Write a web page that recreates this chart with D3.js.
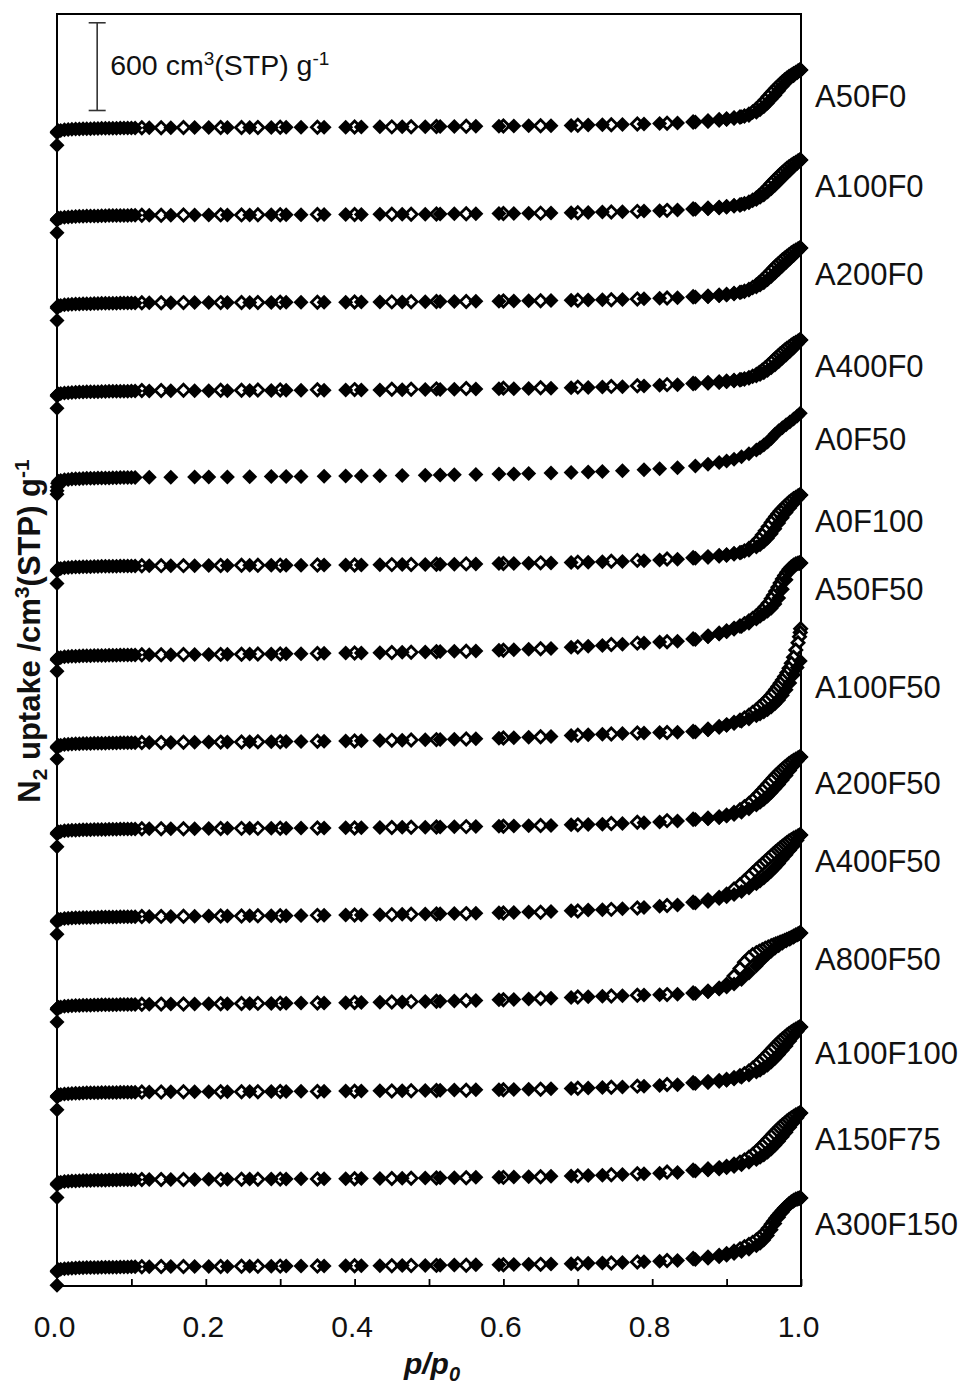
<!DOCTYPE html>
<html>
<head>
<meta charset="utf-8">
<script src="https://cdn.jsdelivr.net/npm/d3@7"></script>
<style>
  html, body { margin: 0; padding: 0; background: #fff; }
  svg text { font-family: Arial, "Liberation Sans", sans-serif; fill: #111; }
</style>
</head>
<body>
<svg id="chart" width="967" height="1385"></svg>
<script>
// Stacked N2 physisorption isotherms, one row per sample, each shifted up by 600 cm3(STP)/g.
// Filled diamonds: adsorption branch. Open diamonds: desorption branch.

const SAMPLES = ["A50F0", "A100F0", "A200F0", "A400F0", "A0F50", "A0F100", "A50F50",
                 "A100F50", "A200F50", "A400F50", "A800F50", "A100F100", "A150F75", "A300F150"];
const OFFSETS = [7800, 7200, 6600, 6000, 5400, 4800, 4200, 3600, 3000, 2400, 1800, 1200, 600, 0];

// relative pressures of the adsorption points (low, middle and high-pressure parts)
const P_ADS = [0, 0.0001, 0.0003, 0.0008, 0.002, 0.005, 0.01, 0.015, 0.02, 0.025, 0.03, 0.035, 0.04,
  0.045, 0.05, 0.055, 0.06, 0.065, 0.07, 0.075, 0.08, 0.085, 0.09, 0.095, 0.1, 0.105,
  0.124, 0.153, 0.185, 0.204, 0.229, 0.259, 0.288, 0.308, 0.328, 0.359, 0.388, 0.409, 0.434, 0.464,
  0.495, 0.515, 0.534, 0.563, 0.594, 0.614, 0.634, 0.664, 0.691, 0.714, 0.733, 0.76, 0.789, 0.81,
  0.834, 0.858,
  0.875, 0.89, 0.9, 0.91, 0.92, 0.93, 0.94, 0.945, 0.95, 0.955, 0.96, 0.965, 0.97, 0.975, 0.98,
  0.985, 0.99, 0.995, 0.999];
// relative pressures of the desorption points, from saturation downwards
const P_DES = [0.9995, 0.999, 0.998, 0.996, 0.993, 0.99, 0.987, 0.984, 0.981, 0.978, 0.975, 0.972,
  0.969, 0.966, 0.963, 0.96, 0.956, 0.952, 0.948, 0.944, 0.94, 0.935, 0.93, 0.924, 0.918, 0.91,
  0.9, 0.89, 0.875, 0.855,
  0.82, 0.78, 0.745, 0.7, 0.65, 0.6, 0.55, 0.51, 0.476, 0.45, 0.4, 0.35, 0.3, 0.27, 0.248, 0.22,
  0.17, 0.14, 0.114];

// uptake, cm3(STP)/g
const A50F0_ADS = [3, 87, 94, 98, 101, 104, 108, 110, 112, 113, 114, 115, 116, 116, 117, 117, 118, 118, 119, 119, 119, 120, 120, 120, 121, 121,
  122, 122, 123, 123, 124, 124, 124, 125, 125, 126, 126, 127, 128, 128, 129, 130, 131, 132, 133, 134, 135, 136, 138, 140, 142, 145, 148, 151, 155, 161,
  166, 174, 180, 188, 198, 205, 228, 245, 265, 290, 318, 345, 375, 405, 435, 458, 478, 498, 517];
const A50F0_DES = [517, 517, 515, 510, 500, 492, 482, 472, 460, 448, 435, 420, 405, 390, 374, 358, 336, 312, 290, 270, 250, 230, 215, 202, 195, 189, 182, 176, 168, 161,
  153, 147, 143, 139, 136, 134, 132, 130, 129, 128, 127, 126, 125, 124, 124, 124, 123, 122, 122];

const A100F0_ADS = [3, 89, 96, 100, 103, 106, 110, 112, 114, 115, 116, 117, 118, 118, 119, 119, 120, 120, 121, 121, 121, 122, 122, 122, 123, 123,
  124, 124, 125, 125, 126, 126, 127, 127, 127, 128, 129, 129, 130, 131, 131, 132, 133, 134, 136, 136, 138, 139, 141, 143, 145, 148, 152, 155, 159, 165,
  170, 176, 181, 188, 198, 212, 232, 246, 262, 282, 304, 328, 354, 380, 405, 430, 455, 478, 501];
const A100F0_DES = [501, 501, 499, 494, 485, 476, 466, 455, 443, 430, 416, 402, 387, 372, 356, 340, 318, 296, 276, 258, 242, 226, 213, 202, 194, 189, 182, 177, 171, 166,
  157, 150, 146, 141, 138, 136, 134, 132, 131, 130, 129, 128, 127, 127, 126, 126, 125, 124, 124];

const A200F0_ADS = [4, 90, 97, 101, 104, 107, 111, 113, 115, 116, 117, 118, 119, 119, 120, 120, 121, 121, 122, 122, 122, 123, 123, 123, 124, 124,
  125, 125, 126, 126, 127, 127, 127, 128, 128, 129, 129, 130, 131, 131, 132, 133, 134, 135, 136, 137, 138, 140, 142, 144, 145, 148, 152, 155, 159, 165,
  168, 174, 180, 188, 198, 212, 232, 246, 262, 282, 304, 328, 352, 376, 400, 424, 448, 474, 500];
const A200F0_DES = [500, 500, 498, 493, 484, 475, 465, 454, 442, 430, 417, 403, 389, 374, 359, 343, 322, 301, 281, 263, 247, 230, 216, 204, 196, 189, 182, 176, 170, 166,
  157, 150, 146, 142, 139, 137, 134, 133, 132, 131, 130, 129, 128, 127, 127, 126, 126, 125, 125];

const A400F0_ADS = [4, 87, 94, 98, 101, 104, 108, 110, 112, 113, 114, 115, 116, 116, 117, 117, 118, 118, 119, 119, 119, 120, 120, 120, 121, 121,
  122, 123, 123, 124, 124, 125, 125, 126, 126, 127, 128, 128, 129, 130, 131, 132, 133, 135, 136, 137, 139, 141, 143, 146, 148, 151, 156, 160, 165, 172,
  176, 182, 187, 193, 200, 210, 224, 234, 246, 262, 280, 300, 322, 345, 368, 392, 416, 443, 470];
const A400F0_DES = [470, 470, 468, 462, 453, 444, 434, 423, 412, 400, 387, 374, 360, 346, 332, 317, 298, 280, 263, 248, 235, 222, 212, 204, 198, 193, 188, 183, 178, 173,
  165, 158, 153, 148, 144, 141, 138, 136, 134, 133, 131, 130, 129, 128, 127, 127, 126, 125, 125];

const A0F50_ADS = [15, 40, 65, 90, 104, 110, 114, 117, 119, 121, 122, 123, 124, 125, 125, 126, 126, 127, 127, 128, 128, 129, 129, 129, 130, 130,
  131, 132, 133, 133, 134, 135, 136, 136, 137, 138, 140, 140, 142, 143, 145, 147, 148, 150, 153, 154, 157, 160, 164, 168, 171, 176, 183, 189, 197, 209,
  220, 232, 242, 255, 272, 292, 318, 334, 352, 372, 396, 425, 450, 470, 490, 510, 530, 550, 569];
const A0F50_DES = [];

const A0F100_ADS = [5, 91, 98, 102, 105, 108, 112, 114, 116, 117, 118, 119, 120, 120, 121, 121, 122, 122, 123, 123, 123, 124, 124, 124, 125, 125,
  126, 127, 127, 128, 128, 129, 129, 130, 130, 131, 132, 132, 133, 134, 135, 136, 137, 139, 141, 142, 143, 145, 148, 150, 153, 156, 161, 165, 170, 178,
  185, 193, 200, 208, 218, 232, 255, 270, 290, 315, 345, 380, 418, 455, 490, 522, 552, 582, 610];
const A0F100_DES = [610, 610, 608, 603, 594, 584, 572, 560, 546, 532, 516, 500, 482, 463, 443, 422, 394, 365, 337, 310, 287, 263, 244, 228, 216, 208, 200, 194, 187, 181,
  172, 163, 157, 151, 146, 142, 139, 137, 135, 134, 132, 131, 130, 129, 129, 128, 127, 127, 126];

const A50F50_ADS = [5, 82, 89, 93, 96, 99, 103, 105, 107, 108, 109, 110, 111, 111, 112, 112, 113, 113, 114, 114, 114, 115, 115, 115, 116, 116,
  117, 118, 119, 120, 121, 122, 123, 124, 125, 127, 129, 130, 132, 134, 137, 139, 141, 144, 148, 151, 155, 161, 168, 175, 181, 190, 198, 204, 210, 222,
  240, 260, 275, 292, 310, 333, 362, 380, 398, 415, 435, 465, 505, 565, 630, 690, 725, 740, 745];
const A50F50_DES = [745, 745, 745, 743, 738, 730, 718, 702, 682, 660, 635, 608, 580, 552, 525, 500, 470, 445, 422, 402, 385, 365, 348, 330, 314, 298, 280, 265, 245, 226,
  207, 197, 187, 171, 158, 149, 142, 138, 135, 133, 129, 126, 123, 122, 121, 120, 119, 118, 117];

const A100F50_ADS = [5, 82, 89, 93, 96, 99, 103, 105, 107, 108, 109, 110, 111, 111, 112, 112, 113, 113, 114, 114, 114, 115, 115, 115, 116, 116,
  117, 118, 119, 120, 121, 122, 123, 124, 125, 126, 128, 129, 131, 133, 136, 138, 140, 143, 147, 150, 154, 159, 165, 170, 174, 179, 183, 185, 187, 190,
  205, 222, 235, 248, 262, 278, 300, 312, 326, 342, 360, 382, 408, 440, 478, 525, 580, 630, 674];
const A100F50_DES = [895, 870, 840, 800, 750, 700, 660, 625, 595, 568, 545, 522, 500, 480, 460, 440, 418, 398, 378, 360, 342, 322, 304, 285, 270, 254, 238, 225, 208, 193,
  186, 182, 176, 167, 156, 148, 141, 137, 134, 132, 128, 126, 123, 122, 121, 120, 119, 118, 117];

const A200F50_ADS = [5, 92, 99, 103, 106, 109, 113, 115, 117, 118, 119, 120, 121, 121, 122, 122, 123, 123, 124, 124, 124, 125, 125, 125, 126, 126,
  127, 128, 128, 129, 130, 130, 131, 131, 132, 133, 134, 135, 136, 137, 138, 140, 141, 143, 145, 146, 148, 150, 154, 157, 159, 164, 169, 174, 181, 190,
  196, 205, 214, 225, 240, 262, 290, 308, 328, 350, 375, 402, 430, 460, 492, 525, 558, 590, 619];
const A200F50_DES = [619, 619, 617, 612, 603, 594, 584, 573, 561, 548, 535, 521, 506, 491, 475, 458, 436, 413, 390, 368, 347, 322, 300, 278, 258, 238, 220, 208, 200, 193,
  183, 172, 163, 154, 149, 145, 142, 139, 137, 136, 133, 132, 131, 130, 130, 129, 128, 128, 127];

const A400F50_ADS = [5, 92, 99, 103, 106, 109, 113, 115, 117, 118, 119, 120, 121, 121, 122, 122, 123, 123, 124, 124, 124, 125, 125, 125, 126, 126,
  127, 128, 129, 130, 131, 132, 133, 133, 134, 135, 137, 138, 140, 142, 144, 146, 148, 150, 153, 155, 158, 161, 166, 171, 174, 181, 189, 197, 206, 220,
  230, 250, 262, 278, 298, 322, 352, 370, 390, 412, 436, 462, 490, 520, 550, 580, 610, 648, 685];
const A400F50_DES = [685, 685, 683, 678, 670, 662, 653, 643, 632, 620, 608, 596, 583, 570, 556, 542, 524, 505, 486, 467, 448, 425, 400, 372, 345, 315, 280, 258, 240, 225,
  203, 186, 176, 165, 157, 151, 147, 144, 142, 140, 137, 135, 133, 132, 131, 130, 129, 128, 127];

const A800F50_ADS = [5, 92, 99, 103, 106, 109, 113, 115, 117, 118, 119, 120, 121, 121, 122, 122, 123, 123, 124, 124, 124, 125, 125, 125, 126, 126,
  127, 128, 129, 130, 131, 132, 133, 134, 135, 136, 138, 139, 141, 143, 146, 148, 150, 153, 157, 160, 163, 168, 174, 179, 182, 186, 190, 192, 195, 200,
  215, 232, 245, 265, 296, 340, 390, 418, 445, 468, 490, 510, 528, 545, 560, 572, 585, 600, 615];
const A800F50_DES = [615, 615, 613, 608, 600, 592, 584, 577, 570, 563, 557, 551, 545, 539, 533, 527, 519, 510, 500, 490, 480, 465, 445, 415, 372, 320, 262, 236, 216, 204,
  193, 189, 184, 176, 166, 158, 152, 148, 145, 143, 139, 136, 134, 133, 132, 131, 129, 128, 127];

const A100F100_ADS = [5, 92, 99, 103, 106, 109, 113, 115, 117, 118, 119, 120, 121, 121, 122, 122, 123, 123, 124, 124, 124, 125, 125, 125, 126, 126,
  127, 128, 128, 129, 129, 130, 131, 131, 132, 132, 133, 134, 135, 136, 137, 139, 140, 142, 143, 144, 146, 149, 151, 154, 157, 161, 166, 171, 176, 185,
  192, 200, 207, 216, 228, 244, 264, 276, 292, 310, 332, 356, 384, 412, 442, 475, 508, 540, 572];
const A100F100_DES = [572, 572, 570, 565, 557, 548, 538, 527, 515, 502, 489, 475, 460, 445, 429, 413, 392, 370, 350, 330, 310, 290, 270, 252, 238, 225, 212, 204, 197, 190,
  178, 167, 160, 152, 146, 142, 139, 137, 136, 134, 132, 131, 130, 129, 129, 128, 128, 127, 127];

const A150F75_ADS = [5, 93, 100, 104, 107, 110, 114, 116, 118, 119, 120, 121, 122, 122, 123, 123, 124, 124, 125, 125, 125, 126, 126, 126, 127, 127,
  128, 129, 129, 130, 130, 131, 132, 132, 133, 133, 134, 135, 136, 137, 138, 140, 141, 143, 144, 145, 147, 150, 152, 155, 158, 162, 167, 172, 177, 186,
  193, 201, 208, 218, 230, 246, 266, 280, 296, 315, 337, 362, 390, 420, 452, 485, 518, 551, 584];
const A150F75_DES = [584, 584, 582, 577, 569, 560, 550, 539, 527, 514, 501, 487, 472, 457, 441, 425, 404, 382, 361, 341, 321, 300, 280, 262, 247, 233, 218, 208, 200, 192,
  179, 168, 161, 153, 147, 143, 140, 138, 137, 135, 133, 132, 131, 130, 130, 129, 129, 128, 128];

const A300F150_ADS = [5, 97, 104, 108, 111, 114, 118, 120, 122, 123, 124, 125, 126, 126, 127, 127, 128, 128, 129, 129, 129, 130, 130, 130, 131, 131,
  132, 133, 133, 134, 134, 135, 135, 136, 136, 137, 138, 138, 139, 140, 141, 142, 143, 145, 146, 147, 149, 151, 153, 156, 158, 161, 166, 170, 175, 182,
  190, 200, 210, 222, 236, 252, 275, 292, 315, 345, 385, 428, 470, 505, 535, 560, 580, 594, 602];
const A300F150_DES = [602, 602, 601, 598, 593, 585, 575, 562, 548, 533, 517, 500, 482, 463, 443, 422, 395, 370, 348, 330, 314, 298, 284, 268, 254, 238, 220, 208, 197, 188,
  175, 164, 158, 152, 148, 145, 142, 141, 140, 139, 138, 137, 136, 135, 135, 134, 133, 133, 132];

const X_TICKS = [0, 0.1, 0.2, 0.3, 0.4, 0.5, 0.6, 0.7, 0.8, 0.9, 1.0];
const X_LABELS = [0, 0.2, 0.4, 0.6, 0.8, 1.0];
const Y_MAX = 8700;
const SCALE_BAR = { value: 600, base: 8040, p: 0.054 };

const ADS = [A50F0_ADS, A100F0_ADS, A200F0_ADS, A400F0_ADS, A0F50_ADS, A0F100_ADS, A50F50_ADS,
             A100F50_ADS, A200F50_ADS, A400F50_ADS, A800F50_ADS, A100F100_ADS, A150F75_ADS, A300F150_ADS];
const DES = [A50F0_DES, A100F0_DES, A200F0_DES, A400F0_DES, A0F50_DES, A0F100_DES, A50F50_DES,
             A100F50_DES, A200F50_DES, A400F50_DES, A800F50_DES, A100F100_DES, A150F75_DES, A300F150_DES];

const series = SAMPLES.map((name, i) => ({
  name,
  offset: OFFSETS[i],
  ads: ADS[i].map((v, j) => ({ p: P_ADS[j], v })).filter(d => d.p !== undefined),
  des: DES[i].map((v, j) => ({ p: P_DES[j], v })).filter(d => d.p !== undefined)
}));

// ---- layout ----
const svg = d3.select("#chart");
const plot = { left: 57, right: 801, top: 14, bottom: 1286 };

const x = d3.scaleLinear().domain([0, 1]).range([plot.left, plot.right]);
const y = d3.scaleLinear().domain([0, Y_MAX]).range([plot.bottom, plot.top]);

// frame
svg.append("rect")
  .attr("x", plot.left).attr("y", plot.top)
  .attr("width", plot.right - plot.left).attr("height", plot.bottom - plot.top)
  .attr("fill", "none").attr("stroke", "#000").attr("stroke-width", 2);

// x axis: inward ticks every 0.1, labels every 0.2
const xAxis = d3.axisBottom(x)
  .tickValues(X_TICKS)
  .tickSizeInner(-7).tickSizeOuter(0)
  .tickPadding(30)
  .tickFormat(d => X_LABELS.some(l => Math.abs(l - d) < 1e-9) ? d3.format(".1f")(d) : "");

const gx = svg.append("g").attr("transform", `translate(0,${plot.bottom})`).call(xAxis);
gx.select(".domain").remove();
gx.selectAll(".tick line").attr("stroke", "#000").attr("stroke-width", 1.8);
gx.selectAll(".tick text")
  .attr("font-size", 30).attr("font-family", "Arial, 'Liberation Sans', sans-serif")
  .attr("fill", "#111").attr("dx", -3);

// diamond markers
const R_FILL = 7.5, R_OPEN = 6.0;
const diamond = r => `M0,${-r}L${r},0L0,${r}L${-r},0Z`;

const rows = svg.append("g").selectAll("g.row").data(series).join("g").attr("class", "row");

rows.selectAll("path.des")
  .data(d => d.des.map(p => ({ ...p, off: d.offset })))
  .join("path").attr("class", "des")
  .attr("d", diamond(R_OPEN))
  .attr("transform", d => `translate(${x(d.p)},${y(d.v + d.off)})`)
  .attr("fill", "#fff").attr("stroke", "#000").attr("stroke-width", 2.8)
  .attr("stroke-linejoin", "miter");

rows.selectAll("path.ads")
  .data(d => d.ads.map(p => ({ ...p, off: d.offset })))
  .join("path").attr("class", "ads")
  .attr("d", diamond(R_FILL))
  .attr("transform", d => `translate(${x(d.p)},${y(d.v + d.off)})`)
  .attr("fill", "#000");

// sample names, placed just below the last adsorption point
svg.append("g").selectAll("text.name").data(series).join("text")
  .attr("class", "name")
  .attr("x", 815)
  .attr("y", d => y(d.offset + d.ads[d.ads.length - 1].v) + 26)
  .attr("dy", "0.35em")
  .attr("font-size", 31)
  .text(d => d.name);

// scale bar: 600 cm3(STP)/g
const sb = svg.append("g").attr("stroke", "#333").attr("stroke-width", 1.6);
const sbx = x(SCALE_BAR.p);
sb.append("line").attr("x1", sbx).attr("x2", sbx)
  .attr("y1", y(SCALE_BAR.base)).attr("y2", y(SCALE_BAR.base + SCALE_BAR.value));
[SCALE_BAR.base, SCALE_BAR.base + SCALE_BAR.value].forEach(v => {
  sb.append("line").attr("x1", sbx - 8.5).attr("x2", sbx + 8.5).attr("y1", y(v)).attr("y2", y(v));
});
const sbt = svg.append("text").attr("x", sbx + 13).attr("y", 75).attr("font-size", 28.5).attr("fill", "#222");
sbt.append("tspan").text(`${SCALE_BAR.value} cm`);
sbt.append("tspan").attr("dy", -10).attr("font-size", 19).text("3");
sbt.append("tspan").attr("dy", 10).text("(STP) g");
sbt.append("tspan").attr("dy", -10).attr("font-size", 19).text("-1");

// axis titles
const yt = svg.append("text")
  .attr("transform", "translate(40,631) rotate(-90)")
  .attr("text-anchor", "middle")
  .attr("font-size", 31).attr("font-weight", "bold");
yt.append("tspan").text("N");
yt.append("tspan").attr("dy", 7).attr("font-size", 21).text("2");
yt.append("tspan").attr("dy", -7).text(" uptake /cm");
yt.append("tspan").attr("dy", -11).attr("font-size", 21).text("3");
yt.append("tspan").attr("dy", 11).text("(STP) g");
yt.append("tspan").attr("dy", -11).attr("font-size", 21).text("-1");

const xt = svg.append("text")
  .attr("x", 432).attr("y", 1374)
  .attr("text-anchor", "middle")
  .attr("font-size", 30).attr("font-weight", "bold").attr("font-style", "italic");
xt.append("tspan").text("p/p");
xt.append("tspan").attr("dy", 7).attr("font-size", 20).text("0");
</script>
</body>
</html>
